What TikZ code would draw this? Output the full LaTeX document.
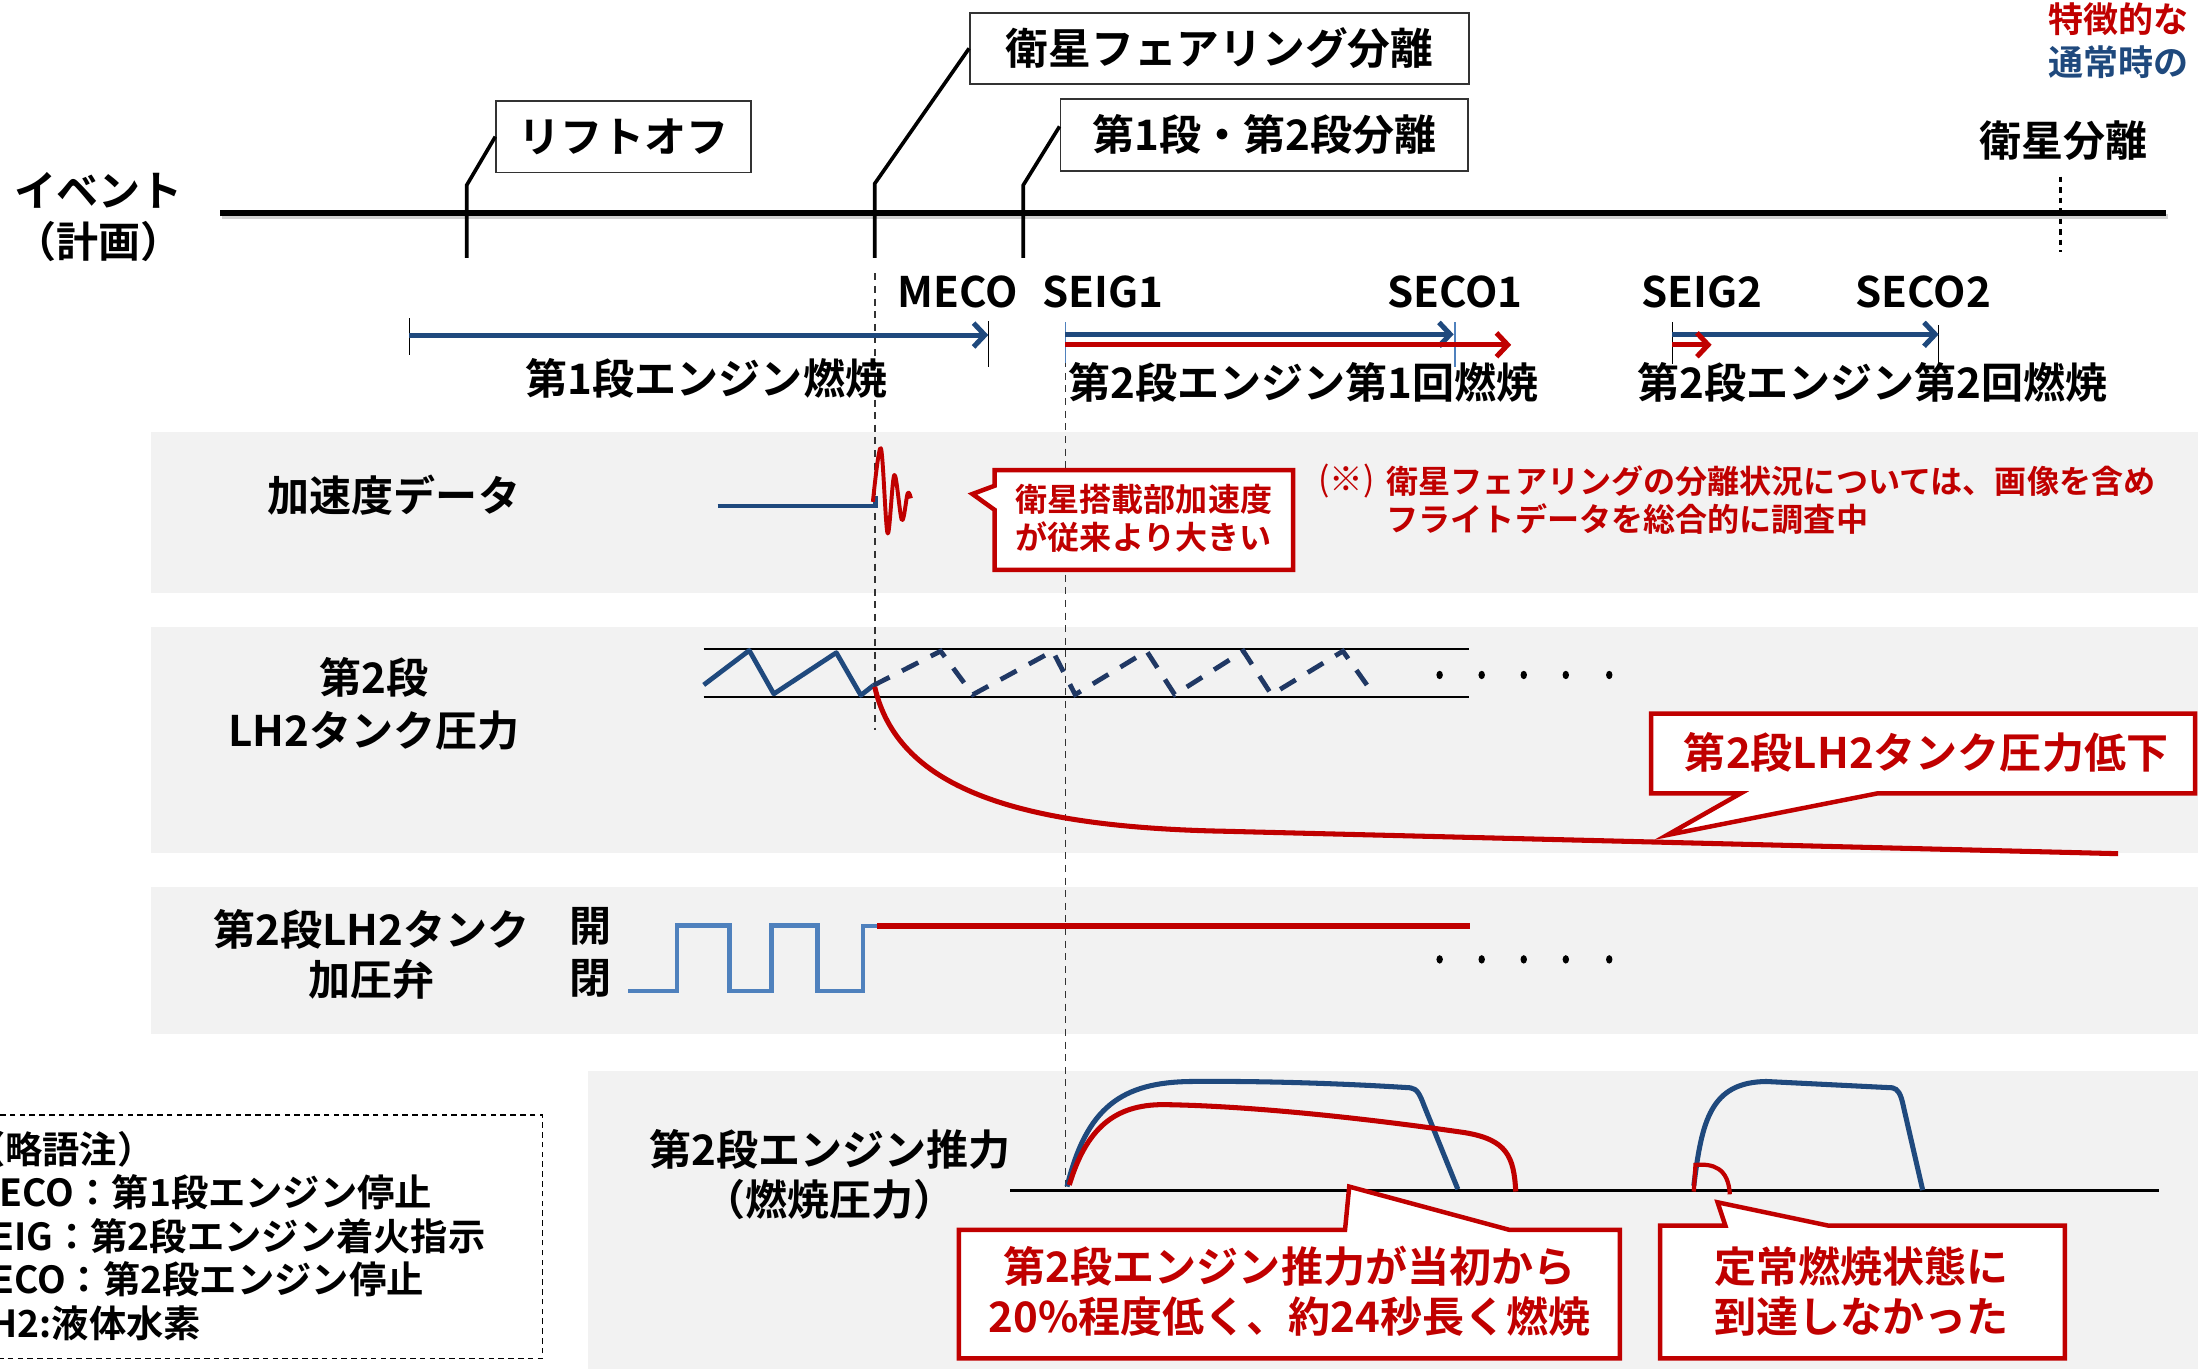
\documentclass[tikz,border=0pt]{standalone}
\usepackage{fontspec}
\setmainfont{Noto Sans CJK JP}[BoldFont={* Bold}]
\usetikzlibrary{arrows.meta}
\definecolor{myblue}{HTML}{1F497D}
\definecolor{myred}{HTML}{C00000}
\definecolor{stepblue}{HTML}{4F81BD}
\definecolor{navy}{HTML}{203864}
\definecolor{bandgray}{HTML}{F2F2F2}
\begin{document}
\begin{tikzpicture}[x=1pt,y=-1pt,
  lbl/.style={font=\fontsize{30}{36}\selectfont\bfseries, align=center, inner sep=0pt},
  evbox/.style={draw=black!80, line width=1.3pt, fill=white, inner sep=0pt, font=\fontsize{30}{36}\selectfont\bfseries},
  tick/.style={line width=2.6pt, black},
  bar/.style={line width=1pt},
  barrow/.style={draw=myblue, line width=3.6pt, -{Straight Barb[length=8pt,width=17pt]}},
  rarrow/.style={draw=myred, line width=3.6pt, -{Straight Barb[length=8pt,width=17pt]}},
  vdash/.style={draw=black!80, line width=1.2pt, dash pattern=on 5pt off 4pt},
  callout/.style={draw=myred, line width=3.2pt, fill=white, line join=miter},
  ctext/.style={font=\fontsize{30}{35.5}\selectfont\bfseries, text=myred, align=center, inner sep=0pt},
  stext/.style={font=\fontsize{22.9}{27}\selectfont\bfseries, text=myred, inner sep=0pt},
  dot/.style={fill=black}
]
\useasboundingbox (0,0) rectangle (1568,976);

% ---- gray bands
\fill[bandgray] (108,308) rectangle (1570,423);
\fill[bandgray] (108,447) rectangle (1570,608.5);
\fill[bandgray] (108,632.5) rectangle (1570,737.6);
\fill[bandgray] (419.5,764) rectangle (1570,980);

% ---- top right
\node[anchor=west, font=\fontsize{25}{30}\selectfont\bfseries, text=myred, inner sep=0pt] (tr1) at (1461,14) {特徴的な};
\node[anchor=west, font=\fontsize{25}{30}\selectfont\bfseries, text=myblue, inner sep=0pt] (tr2) at (1461,44.5) {通常時の};

% ---- event label and timeline
\node[lbl] (ev) at (70,155) {イベント\\（計画）};
\coordinate (tlL) at (157,152);
\coordinate (tlR) at (1545,152);
\draw[line width=3.8pt, black!18] ([shift={(1.5,2.5)}]tlL) -- ([shift={(1.5,2.5)}]tlR);
\draw[line width=3.8pt, black] (tlL) -- (tlR);

% ---- event boxes
\node[evbox, minimum width=182pt, minimum height=51pt] (lo) at (445,97.5) {リフトオフ};
\node[evbox, minimum width=356pt, minimum height=51pt, font=\fontsize{30.5}{36}\selectfont\bfseries] (fs) at (870,34.5) {衛星フェアリング分離};
\node[evbox, minimum width=291pt, minimum height=51pt] (st) at (902,96.2) {第1段・第2段分離};

\coordinate (loB) at (333,184); \coordinate (loT) at (333,132);
\coordinate (fsB) at (624,184); \coordinate (fsT) at (624,131);
\coordinate (stB) at (730,184); \coordinate (stT) at (730,132);
\draw[tick] (loB) -- (loT) -- (lo.west);
\draw[tick] (fsB) -- (fsT) -- (fs.west);
\draw[tick] (stB) -- (stT) -- ([yshift=6pt]st.west);

% satellite separation
\node[lbl] (ss) at (1472,100) {衛星分離};
\coordinate (ssT) at (1470,126); \coordinate (ssB) at (1470,180);
\draw[line width=2.6pt, dash pattern=on 4pt off 3.5pt] (ssT) -- (ssB);

% ---- dashed verticals
\coordinate (v1T) at (624,195); \coordinate (v1B) at (624,521);
\coordinate (v2T) at (760,230); \coordinate (v2B) at (760,847);
\draw[vdash] (v1T) -- (v1B);
\draw[vdash] (v2T) -- (v2B);

% ---- event abbreviations
\node[lbl] (meco) at (683,208) {MECO};
\node[lbl] (seig1) at (787,208) {SEIG1};
\node[lbl] (seco1) at (1038,208) {SECO1};
\node[lbl] (seig2) at (1214,208) {SEIG2};
\node[lbl] (seco2) at (1372,208) {SECO2};

% ---- burn arrows
\coordinate (b1a) at (292,239); \coordinate (b1b) at (705,239);
\draw[bar] (292,227) -- (292,253);
\draw[bar] (705,229) -- (705,262);
\draw[barrow] (b1a) -- (b1b);
\node[lbl] (burn1) at (504,270) {第1段エンジン燃焼};

\draw[bar, draw=stepblue] (760,230) -- (760,259);
\draw[bar, draw=stepblue] (1038,230) -- (1038,262);
\coordinate (b2a) at (760,238.5); \coordinate (b2b) at (1037,238.5);
\coordinate (b2c) at (760,246); \coordinate (b2d) at (1078,246);
\draw[barrow] (b2a) -- (b2b);
\draw[rarrow] (b2c) -- (b2d);
\node[lbl] (burn2) at (930,273) {第2段エンジン第1回燃焼};

\draw[bar] (1193,230) -- (1193,260);
\draw[bar] (1383,232) -- (1383,262);
\coordinate (b3a) at (1193,238.5); \coordinate (b3b) at (1383,238.5);
\coordinate (b3c) at (1193,246); \coordinate (b3d) at (1221,246);
\draw[barrow] (b3a) -- (b3b);
\draw[rarrow] (b3c) -- (b3d);
\node[lbl] (burn3) at (1336,273) {第2段エンジン第2回燃焼};

% ---- band 1 : acceleration
\node[lbl] (acc) at (281,353) {加速度データ};
\draw[myblue, line width=3.4pt] (512,361) -- (624.5,361) -- (624.5,354);
\draw[myred, line width=2.8pt, line join=round] plot[smooth, tension=0.55] coordinates {(622.7,358) (628.4,319.8) (633.2,380.5) (638,338.8) (643.4,371) (647.5,351.9) (649.8,355.5)};

\draw[callout] (709.6,335.3) -- (922.4,335.3) -- (922.4,406.6) -- (709.6,406.6) -- (709.6,363.8) -- (693.7,352.4) -- (709.6,346.5) -- cycle;
\node[stext, align=center] (cA) at (816,370) {衛星搭載部加速度\\が従来より大きい};

\node[anchor=east, font=\fontsize{24}{27}\selectfont, text=myred, inner sep=0pt] (nt0) at (981,343) {(※)};
\node[stext, anchor=west, align=left] (nt) at (989,356.5) {衛星フェアリングの分離状況については、画像を含め\\フライトデータを総合的に調査中};

% ---- band 2 : LH2 tank pressure
\node[lbl, font=\fontsize{30}{38}\selectfont\bfseries] (p2) at (267,502) {第2段\\LH2タンク圧力};
\draw[line width=1.6pt] (502,463) -- (1048,463);
\draw[line width=1.6pt] (502,497) -- (1048,497);
\draw[myblue, line width=3.4pt, line join=round] (502,488.6) -- (534.5,464) -- (552,495) -- (596.6,465.6) -- (614.1,496) -- (623,489);
\draw[navy, line width=3.4pt, dash pattern=on 13pt off 10pt] (623,489) -- (671,464.5) -- (694,495.5) -- (751,464.5) -- (767,495.5) -- (818,464.5) -- (838,495.5) -- (887,464.5) -- (907,495.5) -- (958,464.5) -- (980,495.5);
\foreach \xx in {1027,1057,1087,1117,1148} {\fill[dot] (\xx,481.5) ellipse (2.3pt and 3pt);}
\draw[myred, line width=3.6pt] (624,490) .. controls (640,560) and (720,590) .. (874,593) -- (1511,609);

\draw[callout] (1177.8,509) -- (1566,509) -- (1566,566) -- (1339.2,566) -- (1189.3,595.7) -- (1241.7,566) -- (1177.8,566) -- cycle;
\node[ctext] (cL) at (1374,537) {第2段LH2タンク圧力低下};

% ---- band 3 : valve
\node[lbl] (vl) at (265,681) {第2段LH2タンク\\加圧弁};
\node[lbl] (open) at (421,661) {開};
\node[lbl] (close) at (421,698) {閉};
\draw[stepblue, line width=3.4pt] (448,707) -- (483,707) -- (483,660) -- (520.6,660) -- (520.6,707) -- (550.6,707) -- (550.6,660) -- (583,660) -- (583,707) -- (615.7,707) -- (615.7,660.6) -- (626,660.6);
\draw[myred, line width=3.8pt] (625.7,660.6) -- (1048.6,660.6);
\foreach \xx in {1027,1057,1087,1117,1148} {\fill[dot] (\xx,684.4) ellipse (2.3pt and 3pt);}

% ---- band 4 : thrust
\node[lbl] (th) at (592,838) {第2段エンジン推力\\（燃焼圧力）};
\draw[line width=2.2pt] (720.7,849.3) -- (1540,849.3);
\draw[myblue, line width=3.6pt] (761.2,846.5) .. controls (775,790) and (800,772) .. (850,771.5) .. controls (900,771) and (960,773) .. (1006,776) .. controls (1011,776.5) and (1013,781) .. (1016,789) -- (1040,848.4);
\draw[myred, line width=3.6pt] (762.8,845.3) .. controls (775,805) and (795,788) .. (830,788) .. controls (900,789) and (990,800) .. (1045,808) .. controls (1075,813) and (1080,825) .. (1081.3,850);
\draw[myblue, line width=3.6pt] (1208.3,846) .. controls (1214,800) and (1220,772) .. (1260,771.5) -- (1350,776) .. controls (1354,777) and (1356,780) .. (1358,790) -- (1371.6,849);
\draw[myred, line width=3pt] (1208.3,850) -- (1209.5,831) .. controls (1222,830) and (1233,833) .. (1234,852);

\draw[callout] (684,877.4) -- (959.5,877.4) -- (962.5,846.5) -- (1076.9,877.4) -- (1155.5,877.4) -- (1155.5,969) -- (684,969) -- cycle;
\node[ctext] (cT) at (920,921) {第2段エンジン推力が当初から\\20\%程度低く、約24秒長く燃焼};

\draw[callout] (1184.3,874.3) -- (1230.8,874.3) -- (1225.3,857.7) -- (1304.2,874.3) -- (1473,874.3) -- (1473,969) -- (1184.3,969) -- cycle;
\node[ctext] (cS) at (1328,921) {定常燃焼状態に\\到達しなかった};

% ---- legend
\draw[line width=1.2pt, dash pattern=on 4pt off 3pt] (-10,795.5) rectangle (387,969);
\node[anchor=west, align=left, font=\fontsize{26.6}{31}\selectfont\bfseries, inner sep=0pt] (leg) at (-23,881.6) {（略語注）\\MECO：第1段エンジン停止\\SEIG：第2段エンジン着火指示\\SECO：第2段エンジン停止\\LH2:液体水素};
\end{tikzpicture}
\end{document}
